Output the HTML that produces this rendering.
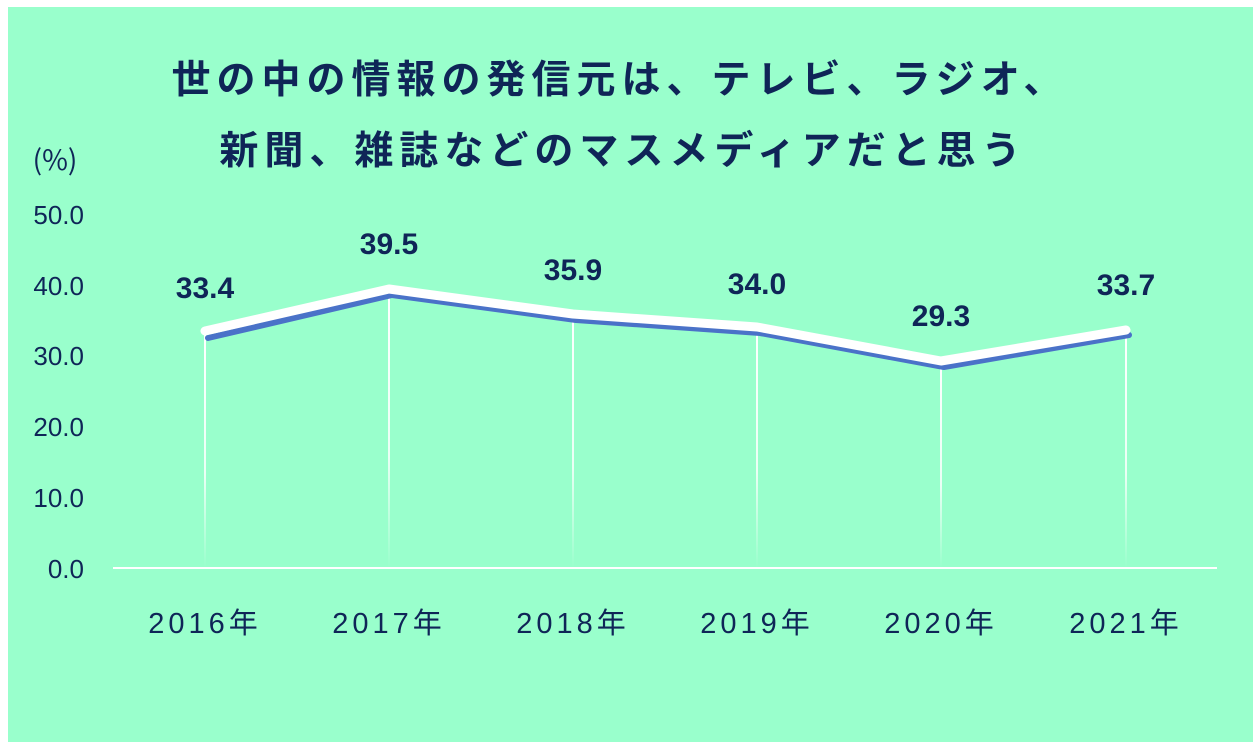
<!DOCTYPE html>
<html><head><meta charset="utf-8"><style>
body{margin:0;background:#fff;}
svg{display:block}
text{font-family:"Liberation Sans","Noto Sans CJK JP",sans-serif;fill:#0f2557}
</style></head><body>
<svg width="1253" height="749" viewBox="0 0 1253 749">
<defs>
<linearGradient id="g" x1="0" y1="0" x2="0" y2="1">
<stop offset="0" stop-color="#fff" stop-opacity="1"/>
<stop offset="0.6" stop-color="#fff" stop-opacity="0.8"/>
<stop offset="1" stop-color="#fff" stop-opacity="0"/>
</linearGradient>
</defs>
<rect x="8" y="7" width="1245" height="735" fill="#99ffcc"/>
<text x="620" y="93" text-anchor="middle" font-size="39" font-weight="bold" letter-spacing="6">世の中の情報の発信元は、テレビ、ラジオ、</text>
<text x="623" y="164" text-anchor="middle" font-size="39" font-weight="bold" letter-spacing="6">新聞、雑誌などのマスメディアだと思う</text>
<text x="55" y="170" text-anchor="middle" font-size="28" style="font-family:'Noto Sans CJK JP',sans-serif">(%)</text>
<g font-size="26" text-anchor="end">
<text x="84" y="224">50.0</text>
<text x="84" y="295">40.0</text>
<text x="84" y="365">30.0</text>
<text x="84" y="436">20.0</text>
<text x="84" y="507">10.0</text>
<text x="84" y="578">0.0</text>
</g>
<rect x="204" y="332" width="2" height="236" fill="url(#g)"/>
<rect x="388" y="289" width="2" height="279" fill="url(#g)"/>
<rect x="572" y="314" width="2" height="254" fill="url(#g)"/>
<rect x="756" y="327" width="2" height="241" fill="url(#g)"/>
<rect x="940" y="361" width="2" height="207" fill="url(#g)"/>
<rect x="1125" y="330" width="2" height="238" fill="url(#g)"/>
<line x1="113" y1="568" x2="1217" y2="568" stroke="#fff" stroke-width="2"/>
<polyline points="208,338 392,295 576,320 760,333 944,367 1129,335" fill="none" stroke="#4a72c8" stroke-width="6" stroke-linecap="round" stroke-linejoin="round"/>
<polyline points="205,331 389,289 573,314 757,327 941,361 1126,330" fill="none" stroke="#fff" stroke-width="9" stroke-linecap="round" stroke-linejoin="round"/>
<g font-size="30" font-weight="bold" text-anchor="middle">
<text x="205" y="298">33.4</text>
<text x="389" y="254">39.5</text>
<text x="573" y="280">35.9</text>
<text x="757" y="294">34.0</text>
<text x="941" y="326">29.3</text>
<text x="1126" y="295">33.7</text>
</g>
<g font-size="29" text-anchor="middle" letter-spacing="4">
<text x="205" y="633">2016年</text>
<text x="389" y="633">2017年</text>
<text x="573" y="633">2018年</text>
<text x="757" y="633">2019年</text>
<text x="941" y="633">2020年</text>
<text x="1126" y="633">2021年</text>
</g>
</svg>
</body></html>
